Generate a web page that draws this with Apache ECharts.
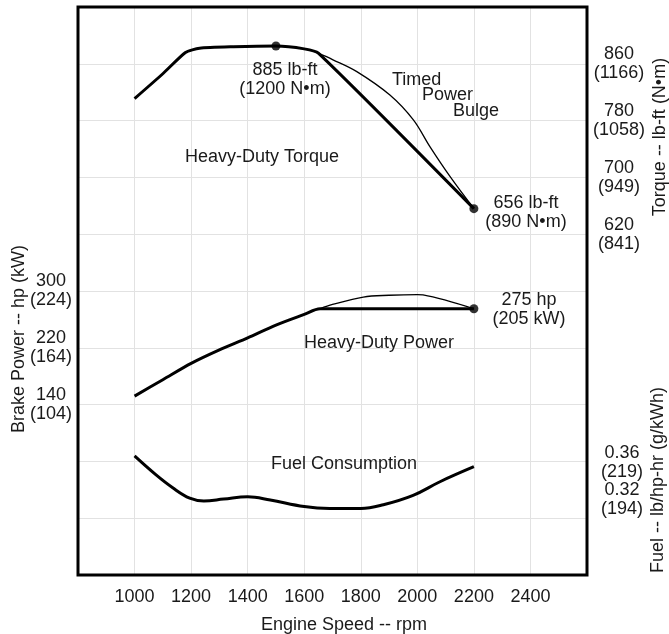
<!DOCTYPE html>
<html>
<head>
<meta charset="utf-8">
<script src="https://cdn.jsdelivr.net/npm/echarts@6/dist/echarts.min.js"></script>
<style>
html,body{margin:0;padding:0;background:#fff;}
#c{width:669px;height:634px;}
</style>
</head>
<body>
<div id="c"></div>
<script>
// ---- data ----
const rpmTicks = [1000, 1200, 1400, 1600, 1800, 2000, 2200, 2400];

const powerTicks = [140, 220, 300];
const powerTicksKW = ['(104)', '(164)', '(224)'];
const torqueTicks = [620, 700, 780, 860];
const torqueTicksNm = ['(841)', '(949)', '(1058)', '(1166)'];
const fuelTicks = [0.32, 0.36];
const fuelTicksG = ['(194)', '(219)'];

const torqueHD = [[1000,811],[1100,846],[1180,876],[1230,882],[1350,884],[1500,885],[1600,881],[1650,875],[2200,656]];
const torqueBulge = [[1650,875],[1700,866],[1786,849],[1903,816],[1986,781],[2045,743],[2116,701],[2200,656]];
const powerHD = [[1000,152],[1100,175],[1200,198],[1300,217],[1400,234],[1500,252],[1600,267],[1656,275],[2200,275]];
const powerBulge = [[1656,275],[1700,281],[1809,291.5],[1900,294],[2000,295],[2020,294.5],[2200,275]];
const fuel = [[1000,0.367],[1075,0.347],[1135,0.333],[1195,0.322],[1245,0.319],[1315,0.321],[1400,0.3235],[1480,0.320],[1600,0.313],[1690,0.311],[1800,0.311],[1880,0.315],[1985,0.325],[2080,0.3395],[2200,0.3555]];
const torqueDots = [[1500,885],[2200,656]];
const powerDots = [[2200,275]];

// ---- chart ----
const FONT = 'Liberation Sans, Arial, Helvetica, sans-serif';
const TXT = '#1a1a1a';
const chart = echarts.init(document.getElementById('c'), null, {renderer:'canvas'});

function pairLabel(ticks, subs, round) {
  return function (v) {
    const key = round ? Math.round(v * 100) / 100 : v;
    const i = ticks.indexOf(key);
    return i >= 0 ? ticks[i] + '\n' + subs[i] : '';
  };
}
const labelBase = {fontSize: 18, fontFamily: FONT, color: TXT, lineHeight: 19, align: 'center'};

function txt(text, x, y, opts) {
  return Object.assign({
    type: 'text', x: x, y: y, z: 50,
    style: Object.assign({
      text: text, font: '18px ' + FONT, fill: TXT,
      align: 'center', verticalAlign: 'middle', lineHeight: 19
    }, (opts && opts.style) || {})
  }, (opts && opts.el) || {});
}

const option = {
  backgroundColor: '#fff',
  animation: false,
  grid: {left: 78, top: 7, width: 509, height: 568, show: true, borderColor: '#000', borderWidth: 3, backgroundColor: 'transparent', z: 10},
  xAxis: {
    type: 'value', min: 800, max: 2600, interval: 200,
    axisLine: {show: false}, axisTick: {show: false},
    splitLine: {show: true, lineStyle: {color: '#e2e2e2', width: 1}},
    axisLabel: {
      margin: 13, fontSize: 18, fontFamily: FONT, color: TXT,
      formatter: v => rpmTicks.indexOf(v) >= 0 ? String(v) : ''
    }
  },
  yAxis: [
    {
      type: 'value', position: 'left', min: -100, max: 700, interval: 80,
      axisLine: {show: false}, axisTick: {show: false},
      splitLine: {show: true, lineStyle: {color: '#e2e2e2', width: 1}},
      axisLabel: Object.assign({margin: 27, formatter: pairLabel(powerTicks, powerTicksKW)}, labelBase)
    },
    {
      type: 'value', position: 'right', min: 140, max: 940, interval: 80,
      axisLine: {show: false}, axisTick: {show: false}, splitLine: {show: false},
      axisLabel: Object.assign({margin: 32, formatter: pairLabel(torqueTicks, torqueTicksNm)}, labelBase)
    },
    {
      type: 'value', position: 'right', offset: 0, min: 0.24, max: 0.846, interval: 0.04,
      axisLine: {show: false}, axisTick: {show: false}, splitLine: {show: false},
      axisLabel: Object.assign({margin: 35, formatter: pairLabel(fuelTicks, fuelTicksG, true)}, labelBase)
    }
  ],
  series: [
    {type: 'line', yAxisIndex: 1, data: torqueBulge, showSymbol: false, smooth: 0.35,
     lineStyle: {color: '#000', width: 1.3}, z: 3},
    {type: 'line', yAxisIndex: 1, data: torqueHD, showSymbol: false, smooth: 0.2,
     lineStyle: {color: '#000', width: 3}, z: 4},
    {type: 'line', yAxisIndex: 0, data: powerBulge, showSymbol: false, smooth: 0.35,
     lineStyle: {color: '#000', width: 1.3}, z: 3},
    {type: 'line', yAxisIndex: 0, data: powerHD, showSymbol: false, smooth: 0.3,
     lineStyle: {color: '#000', width: 3}, z: 4},
    {type: 'line', yAxisIndex: 2, data: fuel, showSymbol: false, smooth: 0.4,
     lineStyle: {color: '#000', width: 3}, z: 4},
    {type: 'scatter', yAxisIndex: 1, data: torqueDots, symbolSize: 9, itemStyle: {color: '#000'}, z: 5},
    {type: 'scatter', yAxisIndex: 0, data: powerDots, symbolSize: 9, itemStyle: {color: '#000'}, z: 5}
  ],
  graphic: [
    txt('885 lb-ft\n(1200 N\u2022m)', 285, 80),
    txt('Heavy-Duty Torque', 262, 157),
    txt('Timed', 392, 80, {style: {align: 'left'}}),
    txt('Power', 422, 95, {style: {align: 'left'}}),
    txt('Bulge', 453, 111, {style: {align: 'left'}}),
    txt('656 lb-ft\n(890 N\u2022m)', 526, 213),
    txt('275 hp\n(205 kW)', 529, 310),
    txt('Heavy-Duty Power', 379, 343),
    txt('Fuel Consumption', 344, 464),
    txt('Engine Speed -- rpm', 344, 625),
    txt('Brake Power -- hp (kW)', 19, 339, {el: {rotation: Math.PI / 2}}),
    txt('Torque -- lb-ft (N\u2022m)', 660, 137, {el: {rotation: Math.PI / 2}}),
    txt('Fuel -- lb/hp-hr (g/kWh)', 658, 480, {el: {rotation: Math.PI / 2}})
  ]
};
chart.setOption(option);
</script>
</body>
</html>
